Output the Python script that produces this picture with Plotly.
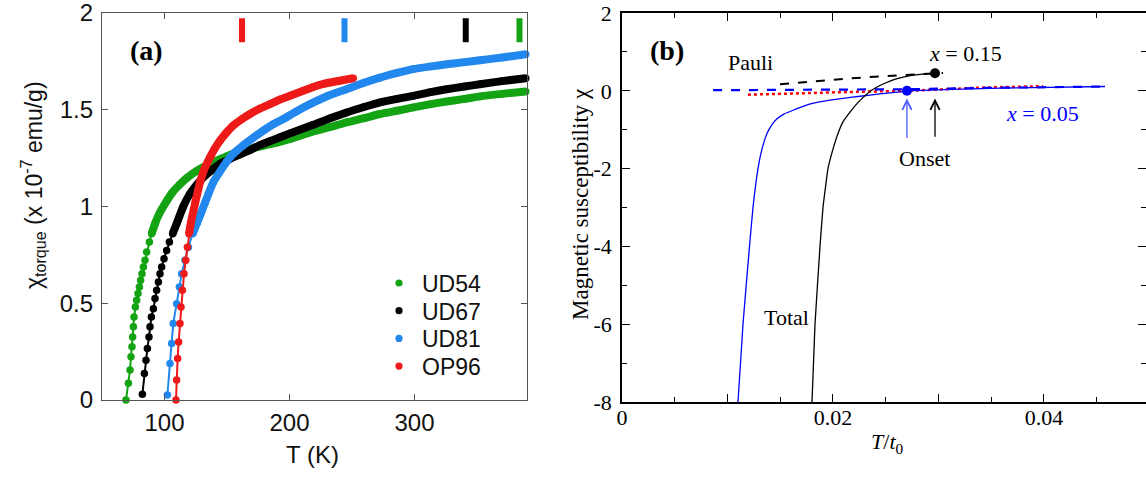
import plotly.graph_objects as go

W, H = 1146, 477

# ---------------- Panel (a) data ----------------
T_UD54 = [69.2, 71.1, 72.4, 73.2, 74.0, 74.5, 75.1, 75.6, 76.7, 77.7, 78.8, 79.9, 80.9, 82.0, 83.1,
          84.4, 85.7, 87.9, 89.7, 92.4, 96, 101.7, 106, 112.4, 118, 125.8, 133, 141.7, 150, 157.7,
          168, 179, 190, 200.4, 216.4, 232, 245.7, 260, 272.4, 286, 299, 312, 325.7, 340, 352.4, 370, 389]
chi_UD54 = [0, 0.086, 0.155, 0.223, 0.275, 0.326, 0.378, 0.429, 0.481, 0.515, 0.55, 0.584, 0.619, 0.653, 0.687,
            0.722, 0.765, 0.816, 0.859, 0.911, 0.965, 1.028, 1.07, 1.115, 1.148, 1.184, 1.21, 1.237, 1.26, 1.28,
            1.298, 1.314, 1.33, 1.349, 1.383, 1.41, 1.435, 1.457, 1.478, 1.495, 1.512, 1.528, 1.543, 1.556, 1.569, 1.582, 1.594]

T_UD67 = [82.3, 83.9, 85.2, 86.3, 87.6, 88.4, 89.5, 91.1, 92.4, 93.7, 95.1, 96.4, 97.7, 99.6, 101.7,
          103.9, 106.5, 109.7, 115, 120, 125.8, 132, 139, 145, 152.4, 160, 168.4, 176, 184.4, 192.4,
          200.4, 219, 232, 245.7, 259, 272.4, 286, 299, 312, 325.7, 340, 352.4, 370, 389]
chi_UD67 = [0.03, 0.137, 0.206, 0.266, 0.326, 0.378, 0.429, 0.472, 0.524, 0.567, 0.61, 0.653, 0.687, 0.73, 0.773,
            0.816, 0.859, 0.911, 1.0, 1.062, 1.112, 1.157, 1.194, 1.222, 1.246, 1.268, 1.292, 1.316, 1.338, 1.358,
            1.378, 1.422, 1.455, 1.486, 1.513, 1.538, 1.556, 1.572, 1.59, 1.606, 1.62, 1.632, 1.648, 1.663]

T_UD81 = [102.3, 104.4, 105.7, 107.0, 109.7, 111.9, 113.7, 116.4, 119.1, 122.5, 126.3, 129, 132.4, 139,
          149.8, 156, 163, 171, 179, 187, 195, 205, 216.4, 230, 245.7, 259, 272.4, 286, 299, 312, 325.7,
          340, 352.4, 370, 389]
chi_UD81 = [0.026, 0.189, 0.292, 0.395, 0.498, 0.584, 0.653, 0.722, 0.79, 0.859, 0.919, 0.962, 1.02, 1.125,
            1.232, 1.278, 1.316, 1.355, 1.392, 1.425, 1.452, 1.49, 1.529, 1.57, 1.606, 1.638, 1.666, 1.69, 1.71,
            1.723, 1.735, 1.746, 1.756, 1.77, 1.787]

T_OP96 = [109.2, 109.7, 110.5, 111.3, 112.4, 113.2, 114.3, 115.6, 117.0, 118.3, 119.6, 121.2, 124.4, 128.4,
          132, 136.4, 140, 144.4, 150, 155, 162, 168.4, 176, 184.4, 192.4, 200.4, 210, 219, 228, 240, 251]
chi_OP96 = [0, 0.103, 0.215, 0.3, 0.395, 0.481, 0.567, 0.653, 0.722, 0.79, 0.859, 0.919, 1.014, 1.125,
            1.195, 1.254, 1.297, 1.34, 1.385, 1.418, 1.452, 1.478, 1.505, 1.529, 1.553, 1.572, 1.595, 1.618, 1.635,
            1.65, 1.663]

series_names = ["UD54", "UD67", "UD81", "OP96"]
onset_T = [384, 341, 244, 162]          # coloured bars at top, same order as series_names
x_ticks_a = [100, 200, 300]
y_ticks_a = [0, 0.5, 1, 1.5, 2]
y_ticklabels_a = ["0", "0.5", "1", "1.5", "2"]

# ---------------- Panel (b) data ----------------
x_blue_total = [0.010995, 0.011469, 0.012085, 0.012417, 0.012891, 0.013270, 0.013744, 0.014218, 0.014692,
                0.015355, 0.016209, 0.017346, 0.018483, 0.019716, 0.021137, 0.022559, 0.024455, 0.026351,
                0.027014, 0.03583, 0.04578]
y_blue_total = [-8, -6, -4, -3, -2, -1.5, -1.1, -0.87, -0.72, -0.6, -0.5, -0.38, -0.3, -0.24, -0.19,
                -0.14, -0.08, -0.03, 0, 0.07, 0.11]

x_black_total = [0.018009, 0.018294, 0.018768, 0.019052, 0.019526, 0.020000, 0.020474, 0.020948, 0.021611,
                 0.022275, 0.022938, 0.023697, 0.024550, 0.025403, 0.026351, 0.027299, 0.028436, 0.029479]
y_black_total = [-8, -6, -4, -3, -2, -1.5, -1.1, -0.8, -0.55, -0.33, -0.15, 0.02, 0.15, 0.25, 0.33, 0.39,
                 0.43, 0.45]

x_black_pauli = [0.01498, 0.02161, 0.02635, 0.02967, 0.03043]
y_black_pauli = [0.17, 0.32, 0.40, 0.45, 0.46]

x_blue_pauli = [0.00863, 0.02161, 0.02701, 0.03583, 0.04578]
y_blue_pauli = [0.015, 0.025, 0.04, 0.08, 0.11]

x_red_dot = [0.01194, 0.01687, 0.02161, 0.02701, 0.03393, 0.03991]
y_red_dot = [-0.1, -0.06, -0.03, 0.0, 0.08, 0.12]

onset_x = [0.02701, 0.02967]   # blue (x=0.05), black (x=0.15)
onset_y = [0.0, 0.45]

x_ticks_b = [0, 0.02, 0.04]
x_ticklabels_b = ["0", "0.02", "0.04"]
x_unlabeled_ticks_b = [0.01, 0.03]
y_ticks_b = [-8, -6, -4, -2, 0, 2]
y_ticklabels_b = ["-8", "-6", "-4", "-2", "0", "2"]

# ---------------- styles ----------------
colors_a = {"UD54": "#13a313", "UD67": "#000000", "UD81": "#2288ee", "OP96": "#ee1a1a"}
data_a = {"UD54": (T_UD54, chi_UD54), "UD67": (T_UD67, chi_UD67),
          "UD81": (T_UD81, chi_UD81), "OP96": (T_OP96, chi_OP96)}
BAND_MIN = 0.85
ONSET_BAR = (1.849, 1.973)
ARIAL = "Arial, Liberation Sans, sans-serif"
TIMES = "Times New Roman, Liberation Serif, serif"
BLUE = "#0000ff"

fig = go.Figure()

# panel (a) curves
for name in series_names:
    T, chi = data_a[name]
    col = colors_a[name]
    Tb = [t for t, c in zip(T, chi) if c >= BAND_MIN]
    cb = [c for c in chi if c >= BAND_MIN]
    fig.add_trace(go.Scatter(x=Tb, y=cb, mode="lines",
                             line=dict(color=col, width=8, shape="spline", smoothing=0.5),
                             xaxis="x", yaxis="y", showlegend=False, hoverinfo="skip"))
    fig.add_trace(go.Scatter(x=T, y=chi, mode="lines+markers", line=dict(color=col, width=2),
                             marker=dict(color=col, size=7.5), xaxis="x", yaxis="y", name=name,
                             showlegend=False, cliponaxis=False))

for name, t in zip(series_names, onset_T):
    fig.add_trace(go.Scatter(x=[t, t], y=list(ONSET_BAR), mode="lines",
                             line=dict(color=colors_a[name], width=6),
                             xaxis="x", yaxis="y", showlegend=False, hoverinfo="skip"))

# panel (b) curves
fig.add_trace(go.Scatter(x=x_red_dot, y=y_red_dot, mode="lines",
                         line=dict(color="#ff0000", width=2.5, dash="dot"),
                         xaxis="x2", yaxis="y2", showlegend=False))
fig.add_trace(go.Scatter(x=x_blue_pauli, y=y_blue_pauli, mode="lines",
                         line=dict(color=BLUE, width=2.2, dash="dash"),
                         xaxis="x2", yaxis="y2", showlegend=False))
fig.add_trace(go.Scatter(x=x_black_pauli, y=y_black_pauli, mode="lines",
                         line=dict(color="black", width=2, dash="dash"),
                         xaxis="x2", yaxis="y2", showlegend=False))
fig.add_trace(go.Scatter(x=x_blue_total, y=y_blue_total, mode="lines",
                         line=dict(color=BLUE, width=1.3, shape="spline", smoothing=0.3),
                         xaxis="x2", yaxis="y2", showlegend=False))
fig.add_trace(go.Scatter(x=x_black_total, y=y_black_total, mode="lines",
                         line=dict(color="black", width=1.3, shape="spline", smoothing=0.3),
                         xaxis="x2", yaxis="y2", showlegend=False))
fig.add_trace(go.Scatter(x=onset_x, y=onset_y, mode="markers",
                         marker=dict(color=[BLUE, "black"], size=10),
                         xaxis="x2", yaxis="y2", showlegend=False))
# dummy traces so the overlay axes render
fig.add_trace(go.Scatter(x=[None], y=[None], xaxis="x2", yaxis="y3", showlegend=False))
fig.add_trace(go.Scatter(x=[None], y=[None], xaxis="x3", yaxis="y2", showlegend=False))


def fx(p):
    return p / W


def fy(p):
    return 1 - p / H


ax_a = dict(showline=True, linecolor="#555555", linewidth=1.3, mirror="ticks", ticks="inside",
            ticklen=6, tickcolor="#555555", showgrid=False, zeroline=False, automargin=False,
            ticklabeloverflow="allow", tickfont=dict(family=ARIAL, size=24, color="#111111"))
ax_b = dict(showline=True, linecolor="black", linewidth=1.5, ticks="inside", tickcolor="black",
            ticklen=8, tickwidth=1.3, showgrid=False, zeroline=False, automargin=False,
            ticklabeloverflow="allow", tickfont=dict(family=TIMES, size=22, color="black"))
XDOM_B = [fx(622), 1.0]
XRANGE_B = [0, 0.04967]

fig.update_layout(
    width=W, height=H, margin=dict(l=0, r=0, t=0, b=0),
    paper_bgcolor="white", plot_bgcolor="white", showlegend=False,
    xaxis=dict(ax_a, domain=[fx(102), fx(527)], range=[50, 390], tickvals=x_ticks_a,
               anchor="y", ticklabelstandoff=1),
    yaxis=dict(ax_a, domain=[fy(400), fy(13)], range=[0, 2], tickvals=y_ticks_a,
               ticktext=y_ticklabels_a, anchor="x", ticklabelstandoff=3),
    xaxis2=dict(ax_b, domain=XDOM_B, range=XRANGE_B, tickvals=x_ticks_b,
                ticktext=x_ticklabels_b, mirror="ticks", anchor="y2", ticklabelstandoff=-5,
                minor=dict(ticks="inside", ticklen=5, dtick=0.005, tick0=0, tickcolor="black", tickwidth=1.3)),
    xaxis3=dict(overlaying="x2", anchor="y2", domain=XDOM_B, range=XRANGE_B, tickvals=x_unlabeled_ticks_b,
                showticklabels=False, showline=True, linecolor="black", linewidth=1.5, mirror="ticks",
                ticks="inside", ticklen=8, tickwidth=1.3, tickcolor="black", showgrid=False,
                zeroline=False, automargin=False),
    yaxis2=dict(ax_b, domain=[fy(402), fy(13)], range=[-8, 2], tickvals=y_ticks_b,
                ticktext=y_ticklabels_b, anchor="x2", ticklabelstandoff=4,
                minor=dict(ticks="inside", ticklen=5, dtick=1, tick0=0, tickcolor="black", tickwidth=1.3)),
    yaxis3=dict(overlaying="y2", side="right", anchor="x2", range=[-8, 2], tickvals=y_ticks_b,
                showticklabels=False, showline=False, ticks="inside", ticklen=8, tickwidth=1.3,
                tickcolor="black", showgrid=False, zeroline=False, automargin=False,
                minor=dict(ticks="inside", ticklen=5, dtick=1, tick0=0, tickcolor="black", tickwidth=1.3)),
)

ann = []
shapes = []


def A(text, x, y, size, family, color="black", angle=0, xanchor="center"):
    ann.append(dict(text=text, x=fx(x), y=fy(y), xref="paper", yref="paper", showarrow=False,
                    font=dict(family=family, size=size, color=color), textangle=angle,
                    xanchor=xanchor, yanchor="middle"))


# legend of panel (a): dot + name per series
LEG_X, LEG_Y0, LEG_DY, DOT_R = 399, 283, 27.7, 3.6
for i, name in enumerate(series_names):
    yc = LEG_Y0 + i * LEG_DY
    shapes.append(dict(type="circle", xref="paper", yref="paper",
                       x0=fx(LEG_X - DOT_R), x1=fx(LEG_X + DOT_R), y0=fy(yc + DOT_R), y1=fy(yc - DOT_R),
                       fillcolor=colors_a[name], line=dict(width=0)))
    A(name, LEG_X + 21, yc + 1, 23, ARIAL, "#111111", xanchor="left")

A("<b>(a)</b>", 146, 51, 28, TIMES)
A("<b>(b)</b>", 667, 50, 28, TIMES)
A("χ<sub>torque</sub> (x 10<sup>-7</sup> emu/g)", 33, 185, 23, ARIAL, "#111111", -90)
A("T (K)", 312, 454, 24, ARIAL, "#111111")
A("Magnetic susceptibility χ", 580, 204, 23, TIMES, "black", -90)
A("<i>T</i>/<i>t</i><sub>0</sub>", 887, 443, 22, TIMES)
A("Pauli", 750, 63, 22, TIMES)
A("Total", 786, 317, 22, TIMES)
A("Onset", 924, 158, 22, TIMES)
A("<i>x</i> = 0.15", 965, 53, 22, TIMES)
A("<i>x</i> = 0.05", 1042, 113, 22, TIMES, BLUE)

# onset arrows (b)
ann.append(dict(x=onset_x[0], y=-0.2, ax=onset_x[0], ay=-1.25, xref="x2", yref="y2", axref="x2", ayref="y2",
                showarrow=True, arrowhead=5, arrowsize=1.4, arrowwidth=1.3, arrowcolor="#4d5cff", text=""))
ann.append(dict(x=onset_x[1], y=-0.2, ax=onset_x[1], ay=-1.22, xref="x2", yref="y2", axref="x2", ayref="y2",
                showarrow=True, arrowhead=5, arrowsize=1.4, arrowwidth=1.3, arrowcolor="black", text=""))

fig.update_layout(annotations=ann, shapes=shapes)
fig.write_html("out.html")
